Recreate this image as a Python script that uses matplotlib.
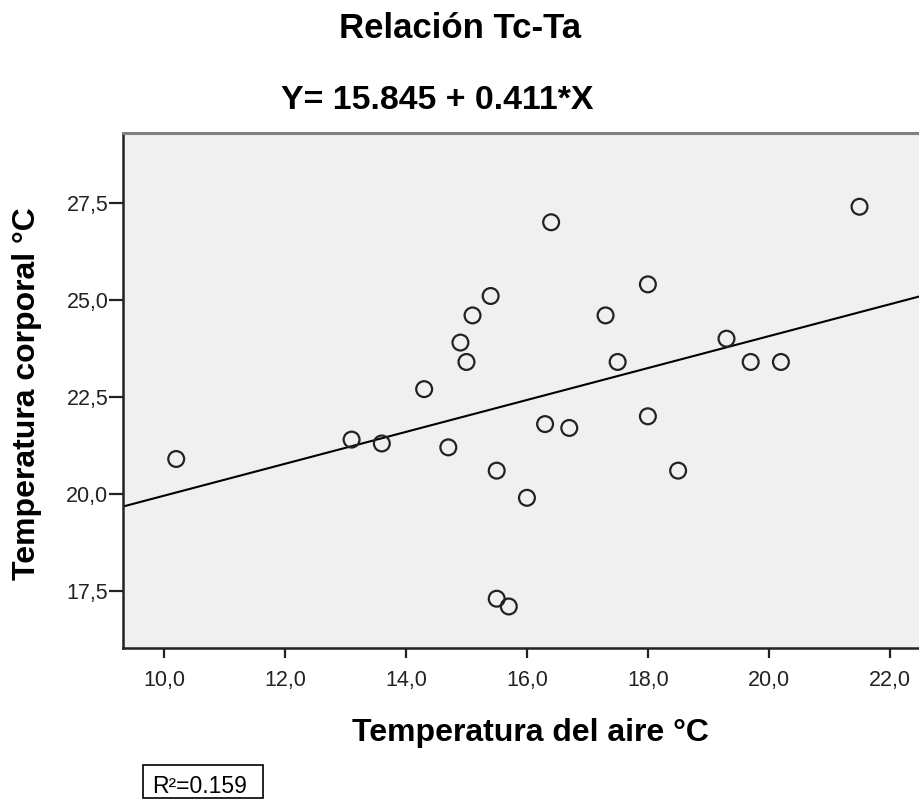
import matplotlib
matplotlib.use('Agg')
import matplotlib.pyplot as plt
from matplotlib.patches import Rectangle
from matplotlib.ticker import FuncFormatter

plt.rcParams['font.family'] = ['Liberation Sans', 'DejaVu Sans']

# temperatura del aire (x) y temperatura corporal (y)
ta = [10.2, 13.1, 13.6, 14.3, 14.7, 14.9, 15.0, 15.1, 15.4, 15.5, 15.5, 15.7,
      16.0, 16.3, 16.4, 16.7, 17.3, 17.5, 18.0, 18.0, 18.5, 19.3, 19.7, 20.2, 21.5]
tc = [20.9, 21.4, 21.3, 22.7, 21.2, 23.9, 23.4, 24.6, 25.1, 20.6, 17.3, 17.1,
      19.9, 21.8, 27.0, 21.7, 24.6, 23.4, 25.4, 22.0, 20.6, 24.0, 23.4, 23.4, 27.4]

a, b = 15.845, 0.411
r2 = 0.159

xticks = [10, 12, 14, 16, 18, 20, 22]
yticks = [17.5, 20.0, 22.5, 25.0, 27.5]

fig = plt.figure(figsize=(9.2, 8), dpi=100)
ax = fig.add_axes([0.1337, 0.19, 0.8663, 0.64375])
ax.set_facecolor('#f0f0f0')

xmin, xmax = 9.32, 22.5
ax.set_xlim(xmin, xmax)
ax.set_ylim(16.03, 29.3)

# recta de regresion
ax.plot([xmin, xmax], [a + b * xmin, a + b * xmax], color='black', lw=1.5, zorder=2)
ax.scatter(ta, tc, s=130, facecolors='none', edgecolors='#222222', linewidths=1.6, zorder=3)

ax.set_xticks(xticks)
ax.set_yticks(yticks)
comma = FuncFormatter(lambda v, p: ('%.1f' % v).replace('.', ','))
ax.xaxis.set_major_formatter(comma)
ax.yaxis.set_major_formatter(comma)
ax.tick_params(axis='x', length=7, width=1.6, labelsize=15.5, pad=9, colors='#222222')
ax.tick_params(axis='y', length=10, width=1.6, labelsize=15.5, pad=0.5, colors='#222222')

for s in ['left', 'bottom']:
    ax.spines[s].set_linewidth(1.8)
    ax.spines[s].set_color('#222222')
ax.spines['top'].set_linewidth(2.2)
ax.spines['top'].set_color('#808080')
ax.spines['right'].set_visible(False)

ax.set_xlabel('Temperatura del aire °C', fontsize=23, fontweight='bold')
ax.xaxis.label.set_va('baseline')
ax.xaxis.set_label_coords(0.511, -0.1806)

fig.text(27 / 920, 1 - 394 / 800, 'Temperatura corporal °C', rotation=90,
         ha='center', va='center', fontsize=23, fontweight='bold')

fig.text(0.5, 0.9525, 'Relación Tc-Ta', ha='center', va='baseline', fontsize=25, fontweight='bold')
fig.text(0.4755, 0.864, 'Y= 15.845 + 0.411*X', ha='center', va='baseline', fontsize=24.4, fontweight='bold')

# cuadro del R cuadrado
fig.patches.append(Rectangle((143 / 920, 1 - 798 / 800), 120 / 920, 33 / 800,
                             transform=fig.transFigure, facecolor='white',
                             edgecolor='black', lw=1.2))
fig.text(152 / 920, 1 - 793 / 800, 'R²=%.3f' % r2, ha='left', va='baseline', fontsize=16.5)

fig.savefig('out.png', dpi=100)
